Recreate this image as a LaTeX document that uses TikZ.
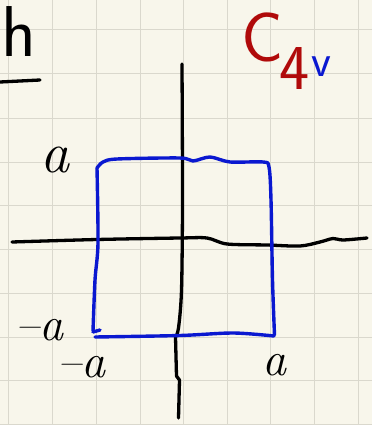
\documentclass[tikz,border=0pt]{standalone}
\usepackage{fontspec}
\definecolor{paper}{HTML}{F8F6EB}
\definecolor{gridc}{HTML}{DAD8CD}
\definecolor{redink}{HTML}{B00A0A}
\definecolor{blueink}{HTML}{0A18D0}
\begin{document}
\begin{tikzpicture}[x=1pt,y=-1pt,
  ink/.style={line width=3.3pt,line cap=round,line join=round,black},
  sq/.style={line width=3.4pt,line cap=round,line join=round,blueink},
  gridline/.style={line width=1pt,gridc},
  alab/.style={inner sep=0pt,anchor=base west,font=\fontsize{48}{48}\selectfont\itshape},
  sflab/.style={inner sep=0pt,anchor=base west}]
\fill[paper] (0,0) rectangle (372,425);
\useasboundingbox (0,0) rectangle (372,425);
% grid
\foreach \x in {8.3,52,96,140,183.5,227,270.5,314,358}
  \draw[gridline] (\x,0) -- (\x,425);
\foreach \y in {30,74,118,162,205.5,249,293,337,380.5,424}
  \draw[gridline] (0,\y) -- (372,\y);
% top-left fragment
\node[sflab,font=\fontsize{72}{72}\selectfont\sffamily] (h) at (1,57) {h};
\draw[ink] (0,82) -- (40,80);
% title
\node[sflab,font=\fontsize{70}{70}\selectfont\sffamily,text=redink] (C) at (241,62) {C};
\node[sflab,font=\fontsize{64}{64}\selectfont\sffamily,text=redink] (four) at (279,90) {4};
\node[sflab,font=\fontsize{46}{46}\selectfont\sffamily,text=blueink] (v) at (311,77) {v};
% axes
\draw[ink] plot[smooth] coordinates {(12,242) (97,239.5) (180,238) (207,238) (227,244) (267,245) (300,246) (320,242) (333,238.5) (343,240) (367,238)};
\draw[ink] plot[smooth] coordinates {(182,64) (182.5,200) (181.5,290) (178.5,328) (175.5,337)} -- (176.5,376) -- (179.5,380) -- (178.5,418);
% square
\draw[sq] plot[smooth] coordinates {(97,168) (103,162) (117,159) (180,158) (193,161) (210,157) (230,162) (263,162) (269,167) (271,200) (272.5,280) (274.5,335)};
\draw[sq] plot[smooth] coordinates {(274,336) (233,333) (180,335.5) (95,337)};
\draw[sq] plot[smooth] coordinates {(97,168) (98,243) (95,280) (93,331)};
\draw[sq] (93,332) -- (100,330);
% labels
\node[alab,font=\fontsize{58}{58}\selectfont\itshape] (atop) at (40,172) {a};
\node[alab] (mal) at (15,340) {–a};
\node[alab] (mab) at (57,377) {–a};
\node[alab] (ar) at (262,375) {a};
\end{tikzpicture}
\end{document}
